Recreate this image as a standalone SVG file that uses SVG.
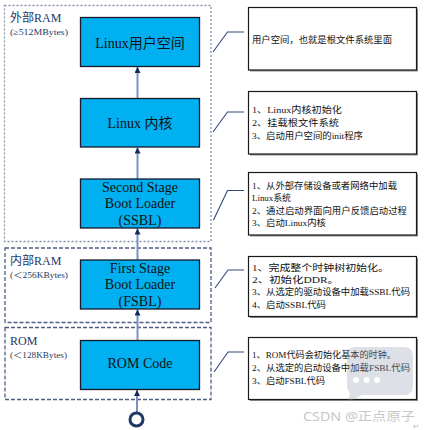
<svg xmlns="http://www.w3.org/2000/svg" width="425" height="430" viewBox="0 0 425 430">
<style>
.node rect{fill:#00b0f0;stroke:#1a1a2a;stroke-width:1.3}
.node text{font-family:"Liberation Serif","Noto Sans CJK SC",serif;font-size:14px;fill:#111;text-anchor:middle}
.zone{fill:none;stroke-width:1.3}
.zlab{font-family:"Liberation Serif","Noto Sans CJK SC",serif;fill:#1f3864}
.note rect.bg{fill:#fff;stroke:#1a1a1a;stroke-width:1.2}
.note rect.sh{fill:#8c8c8c}
.note text{font-family:"Liberation Serif","Noto Sans CJK SC",serif;font-size:9px;fill:#111}
.conn line{stroke:#7a92c0;stroke-width:2}
.call polyline{fill:none;stroke:#2f4a7a;stroke-width:1.1}
</style>
<defs>
<marker id="ah" markerUnits="userSpaceOnUse" markerWidth="7" markerHeight="7" refX="6" refY="3" orient="auto">
<path d="M0,0 L6,3 L0,6 z" fill="#142a5c"/>
</marker>
</defs>
<rect width="425" height="430" fill="#fff"/>

<g id="zones">
<rect class="zone" x="4.5" y="5.5" width="206.5" height="236" stroke="#8494ac" stroke-dasharray="2 2"/>
<rect class="zone" x="5" y="248" width="206" height="74.5" stroke="#4e5e80" stroke-dasharray="4 2"/>
<rect class="zone" x="5" y="327.5" width="206" height="72" stroke="#4e5e80" stroke-dasharray="4 2"/>
<text class="zlab" x="10" y="21.5" font-size="12">外部RAM</text>
<text class="zlab" x="10" y="35" font-size="8.5" textLength="58" lengthAdjust="spacingAndGlyphs">(≥512MBytes)</text>
<text class="zlab" x="10" y="265" font-size="12">内部RAM</text>
<text class="zlab" x="10" y="278" font-size="8.5" textLength="58" lengthAdjust="spacingAndGlyphs">(＜256KBytes)</text>
<text class="zlab" x="10" y="345" font-size="12">ROM</text>
<text class="zlab" x="10" y="357.5" font-size="8.5" textLength="57" lengthAdjust="spacingAndGlyphs">(＜128KBytes)</text>
</g>

<g id="connectors">
<g class="conn">
<line x1="137.5" y1="98.5" x2="137.5" y2="67" marker-end="url(#ah)"/>
<line x1="137.5" y1="179" x2="137.5" y2="147.5" marker-end="url(#ah)"/>
<line x1="137.5" y1="260" x2="137.5" y2="228.5" marker-end="url(#ah)"/>
<line x1="137.5" y1="340.5" x2="137.5" y2="309.5" marker-end="url(#ah)"/>
<line x1="137" y1="412" x2="137" y2="390" marker-end="url(#ah)"/>
</g>
<g class="call">
<polyline points="213,52 227.5,32 244,32"/>
<polyline points="213,132 227.5,112 244,112"/>
<polyline points="213.5,220 227.5,190.5 244,190.5"/>
<polyline points="215,288 228,270 244,270"/>
<polyline points="214,372 228,352 244,352"/>
</g>
</g>

<g id="start">
<circle cx="136.5" cy="419.5" r="6.5" fill="#fff" stroke="#1f3864" stroke-width="3"/>
</g>

<g id="n-user" class="node">
<rect x="80.5" y="17.5" width="119" height="49"/>
<text x="140" y="48">Linux用户空间</text>
</g>
<g id="n-kernel" class="node">
<rect x="80.5" y="98.5" width="119" height="48.5"/>
<text x="140" y="127.5">Linux 内核</text>
</g>
<g id="n-ssbl" class="node">
<rect x="80.5" y="179" width="119" height="49"/>
<text x="140" y="191.5">Second Stage</text>
<text x="140" y="208">Boot Loader</text>
<text x="140" y="224.5">(SSBL)</text>
</g>
<g id="n-fsbl" class="node">
<rect x="80.5" y="260" width="119" height="49"/>
<text x="140" y="272.5">First Stage</text>
<text x="140" y="289">Boot Loader</text>
<text x="140" y="305.5">(FSBL)</text>
</g>
<g id="n-rom" class="node">
<rect x="80.5" y="340.5" width="119" height="49"/>
<text x="140" y="368">ROM Code</text>
</g>

<g id="note-user" class="note">
<rect class="sh" x="250" y="9" width="168" height="62.5"/>
<rect class="bg" x="248.5" y="7.5" width="168" height="62.5"/>
<text x="252" y="42.5" textLength="140" lengthAdjust="spacingAndGlyphs">用户空间，也就是根文件系统里面</text>
</g>
<g id="note-kernel" class="note">
<rect class="sh" x="250" y="93" width="168" height="62.5"/>
<rect class="bg" x="248.5" y="91.5" width="168" height="62.5"/>
<text x="252" y="112.5" textLength="90" lengthAdjust="spacingAndGlyphs">1、Linux内核初始化</text>
<text x="252" y="125.5" textLength="87" lengthAdjust="spacingAndGlyphs">2、挂载根文件系统</text>
<text x="252" y="139" textLength="111" lengthAdjust="spacingAndGlyphs">3、启动用户空间的init程序</text>
</g>
<g id="note-ssbl" class="note">
<rect class="sh" x="250" y="174" width="168" height="62.5"/>
<rect class="bg" x="248.5" y="172.5" width="168" height="62.5"/>
<text x="252" y="188.5" textLength="145" lengthAdjust="spacingAndGlyphs">1、从外部存储设备或者网络中加载</text>
<text x="252" y="200.5" textLength="39" lengthAdjust="spacingAndGlyphs">Linux系统</text>
<text x="252" y="213.5" textLength="155" lengthAdjust="spacingAndGlyphs">2、通过启动界面向用户反馈启动过程</text>
<text x="252" y="226" textLength="74" lengthAdjust="spacingAndGlyphs">3、启动Linux内核</text>
</g>
<g id="note-fsbl" class="note">
<rect class="sh" x="250" y="258" width="168" height="60"/>
<rect class="bg" x="248.5" y="256.5" width="168" height="60"/>
<text x="252" y="270.5" textLength="137" lengthAdjust="spacingAndGlyphs">1、完成整个时钟树初始化。</text>
<text x="252" y="282.5" textLength="87" lengthAdjust="spacingAndGlyphs">2、初始化DDR。</text>
<text x="252" y="295" textLength="158" lengthAdjust="spacingAndGlyphs">3、从选定的驱动设备中加载SSBL代码</text>
<text x="252" y="307.5" textLength="74" lengthAdjust="spacingAndGlyphs">4、启动SSBL代码</text>
</g>
<g id="note-rom" class="note">
<rect class="sh" x="250" y="339" width="168" height="62"/>
<rect class="bg" x="248.5" y="337.5" width="168" height="62"/>
<text x="252" y="357.5" textLength="144" lengthAdjust="spacingAndGlyphs">1、ROM代码会初始化基本的时钟。</text>
<text x="252" y="370.5" textLength="158" lengthAdjust="spacingAndGlyphs">2、从选定的启动设备中加载FSBL代码</text>
<text x="252" y="384" textLength="73" lengthAdjust="spacingAndGlyphs">3、启动FSBL代码</text>
</g>

<g id="watermark" opacity="0.55">
<path d="M355,347 H404 Q413,347 413,356 V386 Q413,395 404,395 H362 L348,402 L350,393 Q347,390 347,386 V356 Q347,347 355,347 z" fill="#9aa4b4" opacity="0.6"/>
<circle cx="356" cy="380" r="3" fill="#fff"/>
<circle cx="366.5" cy="380" r="3" fill="#fff"/>
<circle cx="377" cy="380" r="3" fill="#fff"/>
<text x="303" y="421" font-family="'Noto Sans','Noto Sans CJK SC',sans-serif" font-size="12.5" fill="#9a9a9a" textLength="112" lengthAdjust="spacingAndGlyphs">CSDN @正点原子</text>
<text x="413" y="429" font-family="'DejaVu Sans',sans-serif" font-size="8" fill="#888">↵</text>
</g>
</svg>
